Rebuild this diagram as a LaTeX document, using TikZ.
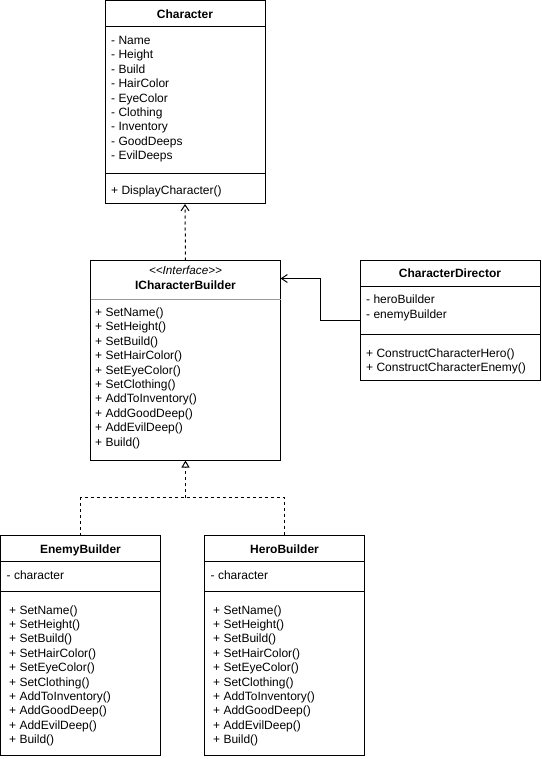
\documentclass[tikz,border=0pt]{standalone}
\usepackage{fontspec}
\setmainfont{Liberation Sans}
\usetikzlibrary{arrows.meta}
\begin{document}
\begin{tikzpicture}[x=1pt,y=-1pt,
  box/.style={draw=black, line width=1pt, fill=white, inner sep=0pt, outer sep=0pt, anchor=north west},
  sep/.style={line width=1pt, black},
  gsep/.style={line width=1pt, black!40},
  txt/.style={anchor=base west, inner sep=0pt, font=\fontsize{12}{14}\selectfont},
  ttl/.style={anchor=base, inner sep=0pt, font=\fontsize{12}{14}\selectfont\bfseries},
  dashline/.style={line width=1pt, dash pattern=on 3pt off 3pt},
  openarrow/.style={-{Straight Barb[length=6pt,width=8pt,line width=1pt]}},
  realarrow/.style={-{Triangle[open,length=7pt,width=8pt,line width=1pt,fill=white]}}
]
\useasboundingbox (0,0) rectangle (541,759);
\fill[white] (0,0) rectangle (541,759);

% Character
\node[box, minimum width=160pt, minimum height=203.5pt] (char) at (105,0.5) {};
\node[ttl] (charT) at (185,18.3) {Character};
\draw[sep] (105,26.5) -- (265,26.5);
\foreach \t [count=\i from 0] in {- Name,- Height,- Build,- HairColor,- EyeColor,- Clothing,- Inventory,- GoodDeeps,- EvilDeeps}
  \node[txt] (ca\i) at (111,{44.5+14.4*\i}) {\t};
\draw[sep] (105,174) -- (265,174);
\node[txt] (cm0) at (111,194.6) {+ DisplayCharacter()};

% ICharacterBuilder
\node[box, minimum width=190pt, minimum height=200pt] (icb) at (90.5,260.5) {};
\node[anchor=base, inner sep=0pt, font=\fontsize{11.7}{14}\selectfont\itshape] (icbS) at (185.5,274) {{<}{<}Interface{>}{>}};
\node[ttl] (icbT) at (185.5,289.5) {ICharacterBuilder};
\draw[gsep] (90.5,299) -- (280.5,299);
\foreach \t [count=\i from 0] in {+ SetName(),+ SetHeight(),+ SetBuild(),+ SetHairColor(),+ SetEyeColor(),+ SetClothing(),+ AddToInventory(),+ AddGoodDeep(),+ AddEvilDeep(),+ Build()}
  \node[txt] (im\i) at (95,{316.5+14.4*\i}) {\t};

% CharacterDirector
\node[box, minimum width=180pt, minimum height=120pt] (dir) at (360,260.5) {};
\node[ttl] (dirT) at (450,277.5) {CharacterDirector};
\draw[sep] (360,286) -- (540,286);
\node[txt] (da0) at (366,303) {- heroBuilder};
\node[txt] (da1) at (366,318) {- enemyBuilder};
\draw[sep] (360,334.5) -- (540,334.5);
\node[txt] (dm0) at (366,357) {+ ConstructCharacterHero()};
\node[txt] (dm1) at (366,371.5) {+ ConstructCharacterEnemy()};

% EnemyBuilder
\node[box, minimum width=160pt, minimum height=220pt] (enemy) at (0.5,535.5) {};
\node[ttl] (enT) at (80.5,553.5) {EnemyBuilder};
\draw[sep] (0.5,561.5) -- (160.5,561.5);
\node[txt] (ea0) at (6.5,579.3) {- character};
\draw[sep] (0.5,591.5) -- (160.5,591.5);
\foreach \t [count=\i from 0] in {+ SetName(),+ SetHeight(),+ SetBuild(),+ SetHairColor(),+ SetEyeColor(),+ SetClothing(),+ AddToInventory(),+ AddGoodDeep(),+ AddEvilDeep(),+ Build()}
  \node[txt] (em\i) at (9,{614+14.4*\i}) {\t};

% HeroBuilder
\node[box, minimum width=160pt, minimum height=220pt] (hero) at (204.5,535.5) {};
\node[ttl] (heT) at (284.5,553.5) {HeroBuilder};
\draw[sep] (204.5,561.5) -- (364.5,561.5);
\node[txt] (ha0) at (210.5,579.3) {- character};
\draw[sep] (204.5,591.5) -- (364.5,591.5);
\foreach \t [count=\i from 0] in {+ SetName(),+ SetHeight(),+ SetBuild(),+ SetHairColor(),+ SetEyeColor(),+ SetClothing(),+ AddToInventory(),+ AddGoodDeep(),+ AddEvilDeep(),+ Build()}
  \node[txt] (hm\i) at (213,{614+14.4*\i}) {\t};

% connectors
\draw[dashline, openarrow] (icb.north) -- (char.south);
\draw[line width=1pt, openarrow] (dir.west) -- ++(-39.5,0) |- ([yshift=-18pt]icb.north east);
\coordinate (join) at (185.5,497.5);
\draw[dashline] (enemy.north) |- (join) -| (hero.north);
\draw[dashline, realarrow] (join) -- (icb.south);
\end{tikzpicture}
\end{document}
